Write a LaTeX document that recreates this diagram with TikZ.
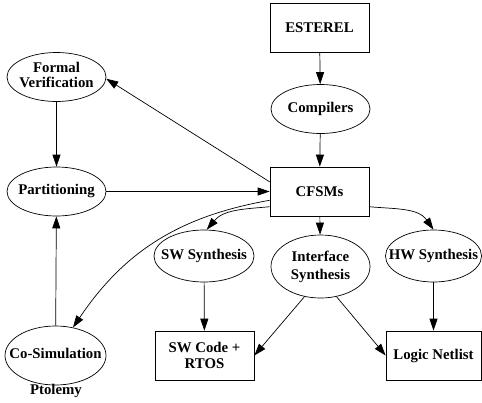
\documentclass[tikz,border=0pt]{standalone}
\usepackage{fontspec}
\setmainfont{Liberation Serif}
\usetikzlibrary{shapes.geometric,arrows.meta}
\newcommand{\ctxt}[2][16]{\makebox[0pt]{\fontsize{14.8}{#1}\selectfont\begin{tabular}{@{}c@{}}#2\end{tabular}}}
\begin{document}
\begin{tikzpicture}[x=1pt,y=1pt,
  every node/.style={font=\fontsize{14.8}{16}\selectfont\bfseries, align=center, inner sep=0pt},
  box/.style={draw, line width=0.7pt, minimum width=99pt, minimum height=49pt},
  oval/.style={draw, ellipse, line width=0.7pt, minimum width=99pt, minimum height=49pt},
  conn/.style={line width=0.7pt, -{Triangle[length=12pt,width=8pt]}}]
\useasboundingbox (0,0) rectangle (482,-402);
\node[box] (est) at (319.5,-27.5) {ESTEREL};
\node[oval] (comp) at (320.5,-109) {\ctxt{Compilers}};
\node[oval, minimum height=49pt] (fv) at (56.5,-77) {\ctxt[13.5]{Formal\\Verification}};
\node[box] (cf) at (319.5,-191.5) {CFSMs};
\node[oval] (part) at (56.5,-191.5) {\ctxt{Partitioning}};
\node[oval, minimum width=100pt, minimum height=52pt] (sw) at (204,-256) {\ctxt{SW Synthesis}};
\node[oval, minimum width=99pt, minimum height=63pt] (ifs) at (320.5,-266.5) {\ctxt[18]{Interface\\Synthesis}};
\node[oval, minimum width=96pt, minimum height=52pt] (hw) at (433.5,-256) {\ctxt{HW Synthesis}};
\node[oval, minimum width=101pt, minimum height=59pt] (cs) at (55.5,-355.5) {\ctxt{Co-Simulation}};
\node (pt) at (56,-391) {Ptolemy};
\node[box] (swc) at (204.5,-355.5) {\fontsize{14.8}{18}\selectfont SW Code +\\RTOS};
\node[box, minimum width=95pt] (ln) at (433.5,-355.5) {Logic Netlist};
\draw[conn] (est) -- (comp);
\draw[conn] (comp) -- (cf);
\draw[conn] (cf.169) -- (fv.-2);
\draw[conn] (fv) -- (part);
\draw[conn] (part) -- (cf);
\draw[conn] (cs) -- (part);
\draw[conn] (cf.190) to[out=190, in=56] (cs.58);
\draw[conn] (cf.197) to[out=185, in=50] (sw.84);
\draw[conn] (cf) -- (ifs);
\draw[conn] (cf.-17) to[out=-5, in=125] (hw.90);
\draw[conn] (sw) -- (swc);
\draw[conn] (ifs.242) -- (swc.east);
\draw[conn] (ifs.298) -- (ln.west);
\draw[conn] (hw) -- (ln);
\end{tikzpicture}
\end{document}
